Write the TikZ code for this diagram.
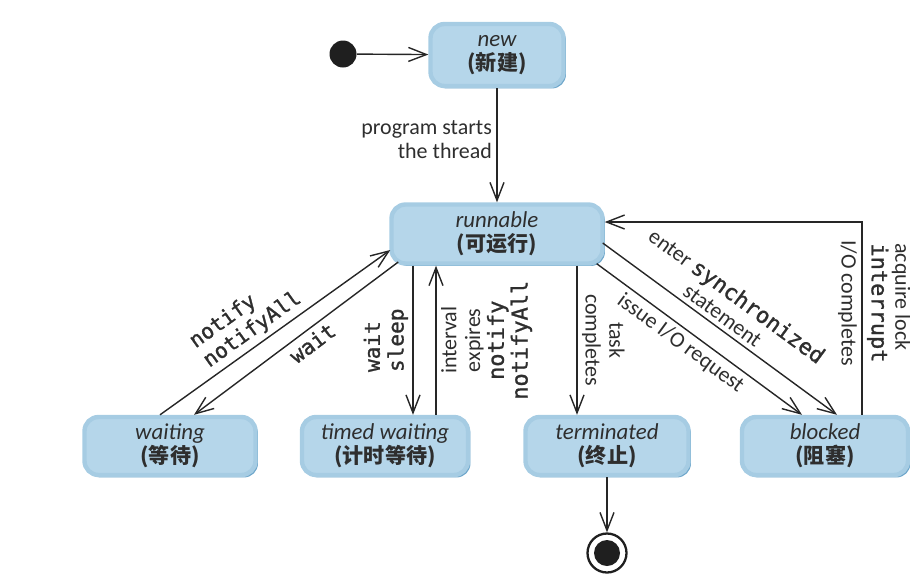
\documentclass[tikz,border=0pt]{standalone}
\usepackage{fontspec}
\setmainfont{Carlito}
\setmonofont[FakeBold=1.2]{DejaVu Sans Mono}
\newfontfamily\cjk{Noto Sans CJK SC}
\usepackage{tikz}
\usetikzlibrary{arrows.meta, positioning, calc, shadows}
\definecolor{stateface}{HTML}{B5D6EA}
\definecolor{staterim}{HTML}{A6CCE3}
\definecolor{stateshade}{HTML}{6FA7CB}
\definecolor{labelgray}{HTML}{2E2E2E}
\tikzset{
  state/.style   ={rectangle, draw=staterim, line width=2.5pt, rounded corners=8pt,
                   fill=stateface, align=center, text=labelgray,
                   minimum height=11.6mm, inner sep=1pt,
                   font=\fontsize{13}{13.5}\selectfont,
                   drop shadow={shadow xshift=1.4pt, shadow yshift=-1.4pt,
                                fill=stateshade, opacity=1}},
  initdot/.style ={circle, fill=black!88, minimum size=5.4mm, inner sep=0pt},
  finaldot/.style={circle, draw=black!88, line width=1.3pt, fill=white,
                   minimum size=7.8mm, inner sep=0pt,
                   path picture={\fill[black!88] (path picture bounding box.center) circle (2.6mm);}},
  ar/.style      ={-{Straight Barb[length=3.6mm, width=2.8mm]}, line width=0.8pt, black!85},
  lbl/.style     ={font=\fontsize{12.5}{13.5}\selectfont, text=labelgray,
                   align=center, inner sep=2.5pt},
  mlbl/.style    ={font=\ttfamily\fontsize{12}{13.5}\selectfont, text=labelgray,
                   align=left, inner sep=2.5pt}
}

\begin{document}
\begin{tikzpicture}[x=0.2mm, y=-0.2mm]
\useasboundingbox (0,0) rectangle (910,586);
% states
\node[initdot] (init) at (343,54) {};
\node[state, minimum width=26.6mm, minimum height=12.4mm] (new) at (497,55)
  {\itshape new\\{\cjk\bfseries\fontsize{12}{12}\selectfont (新建)}};
\node[state, minimum width=42.2mm, minimum height=11.8mm] (runnable) at (497,234)
  {\itshape runnable\\{\cjk\bfseries\fontsize{12}{12}\selectfont (可运行)}};
\node[state, minimum width=34.2mm] (waiting) at (170,446)
  {\itshape waiting\\{\cjk\bfseries\fontsize{12}{12}\selectfont (等待)}};
\node[state, minimum width=33.2mm] (timed) at (385,446)
  {\itshape timed waiting\\{\cjk\bfseries\fontsize{12}{12}\selectfont (计时等待)}};
\node[state, minimum width=32.6mm] (terminated) at (607,446)
  {\itshape terminated\\{\cjk\bfseries\fontsize{12}{12}\selectfont (终止)}};
\node[state, minimum width=33.2mm] (blocked) at (825,446)
  {\itshape blocked\\{\cjk\bfseries\fontsize{12}{12}\selectfont (阻塞)}};
\node[finaldot] (final) at (607,553) {};
% transitions
\draw[ar] (init) -- (new);
\draw[ar] (new) -- node[lbl, left, align=right, pos=0.45] {program starts\\the thread} (runnable);
\draw[ar] ($(waiting.north)+(-10,0)$) -- node[mlbl, sloped, above, pos=0.44] {notify\\notifyAll}
  ($(runnable.west)+(1,16)$);
\draw[ar] ($(runnable.west)+(9,28)$) -- node[mlbl, sloped, below, pos=0.46] {wait}
  ($(waiting.north)+(24,0)$);
\draw[ar] ($(runnable.south)+(-84,0)$) -- node[mlbl, rotate=90, anchor=south, midway] {wait\\sleep}
  ($(timed.north)+(28,0)$);
\draw[ar] ($(timed.north)+(51,0)$) -- node[lbl, rotate=90, anchor=north, midway]
  {interval\\expires\\{\ttfamily notify}\\{\ttfamily notifyAll}}
  ($(runnable.south)+(-61,0)$);
\draw[ar] ($(runnable.south)+(80,0)$) -- node[lbl, rotate=-90, anchor=south, midway] {task\\completes}
  ($(terminated.north)+(-30,0)$);
\draw[ar] ($(runnable.east)+(-2,9)$) -- node[lbl, sloped, above, pos=0.48]
  {enter {\ttfamily synchronized}\\statement} ($(blocked.north)+(12,0)$);
\draw[ar] ($(runnable.south east)+(-8,-2)$) -- node[lbl, sloped, below, pos=0.45] {issue I/O request}
  ($(blocked.north)+(-23,0)$);
\draw[ar] ($(blocked.north)+(37,0)$) |- node[lbl, rotate=-90, anchor=north, pos=0.29] {I/O completes}
  node[lbl, rotate=-90, anchor=south, align=left, pos=0.29] {acquire lock\\{\ttfamily interrupt}}
  ($(runnable.east)+(0,-12)$);
\draw[ar] (terminated) -- (final);
\end{tikzpicture}
\end{document}
